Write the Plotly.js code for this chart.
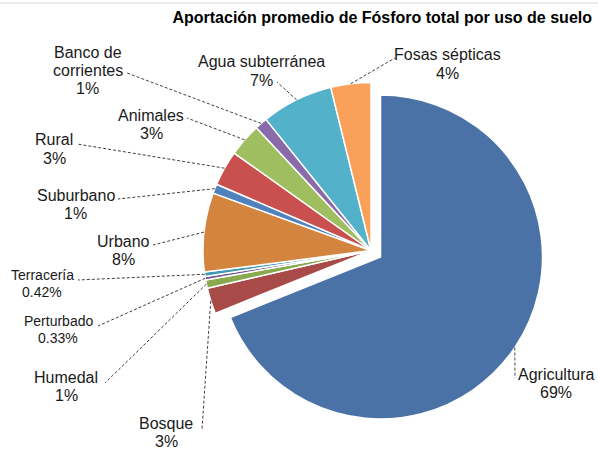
<!DOCTYPE html>
<html>
<head>
<meta charset="utf-8">
<script src="https://cdn.plot.ly/plotly-3.0.1.min.js"></script>
<style>html,body{margin:0;padding:0;background:#fff;}</style>
</head>
<body>
<div id="chart" style="width:598px;height:454px;"></div>
<script>
// ---- data ----
const categories = ["Agricultura", "Bosque", "Humedal", "Perturbado", "Terracería", "Urbano",
                    "Suburbano", "Rural", "Animales", "Banco de<br>corrientes", "Agua subterránea", "Fosas sépticas"];
const values = [68.9, 2.5, 0.8, 0.33, 0.42, 7.6, 0.9, 3.4, 3.2, 1.2, 6.9, 3.85];
const percentLabels = ["69%", "3%", "1%", "0.33%", "0.42%", "8%", "1%", "3%", "3%", "1%", "7%", "4%"];
const exploded = [true, false, false, false, false, false, false, false, false, false, false, false];
const colors = ["#4A72A6", "#A84B48", "#8AA94C", "#70588F", "#3E9AB2", "#D3853F",
                "#4F81BD", "#C8514F", "#9FBE5F", "#8A6BAA", "#53B1CA", "#F9A05A"];
const titleText = "Aportación promedio de Fósforo total por uso de suelo";

// ---- layout / style (pixels) ----
const W = 598, H = 454;
const FONT = "Liberation Sans, Arial, sans-serif";
const pieCenter = [371, 250.5];
const pieRadius = 168;
const explodedRadius = 162;
const explodeDistance = 11.5;
// label text centre x, first-line centre y, leader end, font size
const labelX = [556, 166, 66, 58, 42, 123, 75.5, 54, 151, 87.5, 261, 448];
const labelY = [374, 423, 377, 321, 275, 241, 195, 140, 115, 52, 62, 55];
const leaderEndX = [515, 202, 105, 98, 78, 153, 118, 77, 187, 127, 277, 395];
const leaderEndY = [378, 429, 383, 326, 280, 245, 199, 144, 118, 73, 82, 58];
const labelSize = [16, 16, 16, 14, 14, 16, 16, 16, 16, 16, 16, 16];

const px2x = p => p / W;
const py2y = p => 1 - p / H;
const T = "rgba(0,0,0,0)";

// mid-angles (clockwise from 12 o'clock) from the data
const vTotal = values.reduce((a, b) => a + b, 0);
const mids = [];
(function () { let a = 0; values.forEach(v => { mids.push((a + v / 2) / vTotal * 2 * Math.PI); a += v; }); })();

// centre of the exploded slice(s)
const exIdx = exploded.indexOf(true);
const exCenter = [pieCenter[0] + explodeDistance * Math.sin(mids[exIdx]),
                  pieCenter[1] - explodeDistance * Math.cos(mids[exIdx])];

function domainFor(c, r) {
  return {x: [px2x(c[0] - r), px2x(c[0] + r)], y: [py2y(c[1] + r), py2y(c[1] - r)]};
}

const traceMain = {
  type: "pie", labels: categories, values: values, sort: false,
  direction: "clockwise", rotation: 0,
  domain: domainFor(pieCenter, pieRadius),
  textinfo: "none", hoverinfo: "label+percent",
  marker: {colors: colors.map((c, i) => exploded[i] ? T : c),
           line: {color: exploded.map(e => e ? T : "#ffffff"), width: 1.5}},
  showlegend: false
};
const traceExploded = {
  type: "pie", labels: categories, values: values, sort: false,
  direction: "clockwise", rotation: 0,
  domain: domainFor(exCenter, explodedRadius),
  textinfo: "none", hoverinfo: "label+percent",
  marker: {colors: colors.map((c, i) => exploded[i] ? c : T),
           line: {color: exploded.map(e => e ? "#ffffff" : T), width: 1.5}},
  showlegend: false
};

const shapes = [{
  type: "line", xref: "paper", yref: "paper",
  x0: 0, x1: 1, y0: py2y(3), y1: py2y(3),
  line: {color: "#d9d9d9", width: 1}
}];
const annotations = [];
categories.forEach((cat, i) => {
  const c = exploded[i] ? exCenter : pieCenter;
  const r = exploded[i] ? explodedRadius : pieRadius;
  const sx = c[0] + r * Math.sin(mids[i]);
  const sy = c[1] - r * Math.cos(mids[i]);
  shapes.push({
    type: "line", xref: "paper", yref: "paper",
    x0: px2x(sx), y0: py2y(sy), x1: px2x(leaderEndX[i]), y1: py2y(leaderEndY[i]),
    line: {color: "#404040", width: 1, dash: "3px,2px"}
  });
  const lines = cat.split("<br>").concat([percentLabels[i]]);
  const gap = labelSize[i] >= 16 ? 18.5 : 16.5;
  lines.forEach((t, k) => {
    annotations.push({
      text: t, showarrow: false, xref: "paper", yref: "paper",
      x: px2x(labelX[i]), y: py2y(labelY[i] + k * gap),
      xanchor: "center", yanchor: "middle",
      font: {family: FONT, size: labelSize[i], color: "#1a1a1a"}
    });
  });
});

const layout = {
  width: W, height: H,
  margin: {l: 0, r: 0, t: 0, b: 0},
  paper_bgcolor: "#ffffff", plot_bgcolor: "#ffffff",
  showlegend: false,
  title: {
    text: "<b>" + titleText + "</b>",
    font: {family: FONT, size: 16, color: "#000000"},
    xref: "paper", x: px2x(592), xanchor: "right",
    yref: "container", y: 1 - 17 / H, yanchor: "middle"
  },
  shapes: shapes,
  annotations: annotations
};

Plotly.newPlot("chart", [traceMain, traceExploded], layout, {displayModeBar: false, staticPlot: true});
</script>
</body>
</html>
